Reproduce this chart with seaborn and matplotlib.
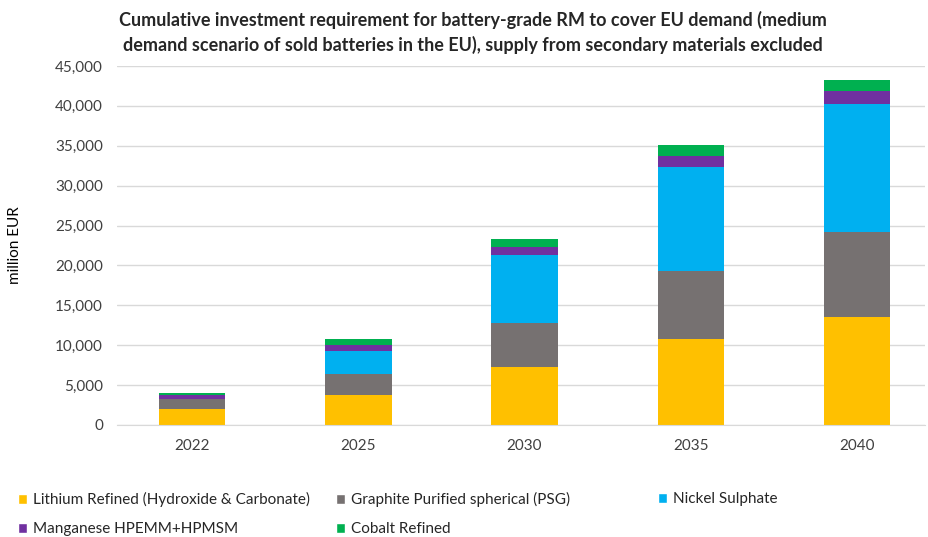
import pandas as pd
import seaborn as sns
import matplotlib.pyplot as plt
from matplotlib.patches import Patch
from matplotlib.ticker import FuncFormatter

# data (million EUR)
years = ['2022', '2025', '2030', '2035', '2040']
lithium = [1950, 3760, 7230, 10780, 13500]
graphite = [1300, 2670, 5590, 8480, 10690]
nickel = [0, 2880, 8440, 13140, 16080]
manganese = [520, 670, 1090, 1350, 1550]
cobalt = [230, 760, 920, 1300, 1410]

series = ['Lithium Refined (Hydroxide & Carbonate)', 'Graphite Purified spherical (PSG)',
          'Nickel Sulphate', 'Manganese HPEMM+HPMSM', 'Cobalt Refined']
colors = ['#FFC000', '#767171', '#00B0F0', '#7030A0', '#00B050']

df = pd.DataFrame({'year': years, series[0]: lithium, series[1]: graphite,
                   series[2]: nickel, series[3]: manganese, series[4]: cobalt})
cum = df[series].cumsum(axis=1)
cum['year'] = df['year']

sns.set_style('white')
plt.rcParams['font.family'] = ['Lato', 'DejaVu Sans']

fig = plt.figure(figsize=(9.29, 5.37), dpi=100)
ax = fig.add_axes([117/929, 1-425/537, (925-117)/929, (425-66)/537])

# stacked bars: draw cumulative totals from the top down
for s, c in zip(series[::-1], colors[::-1]):
    sns.barplot(data=cum, x='year', y=s, color=c, width=0.4, ax=ax,
                saturation=1, edgecolor='none', linewidth=0)

ax.set_xlim(-(192-117)/166.25, (925-192)/166.25)
ax.set_ylim(0, 45000)
ax.set_yticks(range(0, 45001, 5000))
ax.yaxis.set_major_formatter(FuncFormatter(lambda v, p: f'{int(v):,}'))
ax.yaxis.grid(True, color='#d9d9d9', linewidth=1)
ax.set_axisbelow(True)
for sp in ['top', 'right', 'left']:
    ax.spines[sp].set_visible(False)
ax.spines['bottom'].set_color('#d9d9d9')
ax.tick_params(axis='both', length=0, labelsize=11, colors='#404040', pad=10)
ax.set_xlabel('')
ax.set_ylabel('million EUR', fontsize=11, color='black', labelpad=24)

fig.text(473/929, 1-20/537, 'Cumulative investment requirement for battery-grade RM to cover EU demand (medium',
         ha='center', va='center', fontsize=13, fontweight='bold')
fig.text(473/929, 1-45/537, 'demand scenario of sold batteries in the EU), supply from secondary materials excluded',
         ha='center', va='center', fontsize=13, fontweight='bold')

# legend: three columns at fixed positions, filled row by row
cols = [[0, 3], [1, 4], [2]]
col_x = [12, 330, 652]
for idx, x in zip(cols, col_x):
    handles = [Patch(facecolor=colors[i], label=series[i]) for i in idx]
    fig.legend(handles=handles, loc='upper left', bbox_to_anchor=(x/929, 1-486/537),
               frameon=False, fontsize=11, handlelength=0.6, handleheight=0.6,
               handletextpad=0.35, labelspacing=1.0, borderaxespad=0)

fig.savefig('out.png', dpi=100)
